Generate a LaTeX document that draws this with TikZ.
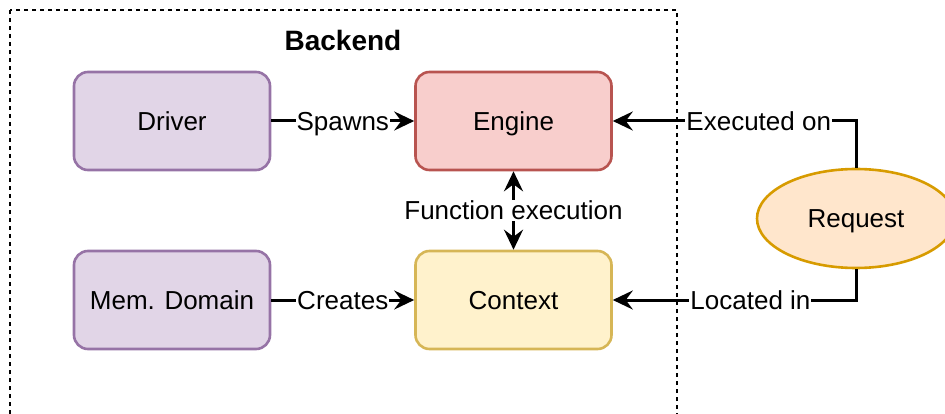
\documentclass[tikz,border=0pt]{standalone}
\usepackage{fontspec}
\setmainfont{Liberation Sans}
\usetikzlibrary{shapes.geometric,arrows.meta}
\definecolor{purpleF}{HTML}{E1D5E7}
\definecolor{purpleD}{HTML}{9673A6}
\definecolor{redF}{HTML}{F8CECC}
\definecolor{redD}{HTML}{B85450}
\definecolor{yelF}{HTML}{FFF2CC}
\definecolor{yelD}{HTML}{D6B656}
\definecolor{orF}{HTML}{FFE6CC}
\definecolor{orD}{HTML}{D79B00}
\begin{document}
\begin{tikzpicture}[x=1pt,y=-1pt,
  txt/.style={font=\fontsize{26}{30}\selectfont},
  box/.style={txt, draw, rounded corners=14pt, line width=2.6pt, minimum width=196pt, minimum height=98pt, inner sep=0pt, text depth=0pt},
  tip/.tip={Stealth[length=20pt,width=19pt,inset=7pt]},
  conn/.style={line width=3pt, -tip},
  lbl/.style={txt, fill=white, inner xsep=1pt, inner ysep=1pt, text depth=0pt}]
\useasboundingbox (0,0) rectangle (945,414);
\clip (0,0) rectangle (945,414);
\draw[dash pattern=on 4pt off 4pt, line width=1.4pt] (10,10) rectangle (677,440);
\node[font=\bfseries\fontsize{28}{32}\selectfont] (title) at (343,40) {Backend};
\node[box, fill=purpleF, draw=purpleD] (drv) at (172,121) {Driver};
\node[box, fill=redF, draw=redD] (eng) at (513.5,121) {Engine};
\node[box, fill=purpleF, draw=purpleD] (mem) at (172,300) {Mem. Domain};
\node[box, fill=yelF, draw=yelD] (ctx) at (513.5,300) {Context};
\node[txt, ellipse, draw=orD, fill=orF, line width=2.6pt, minimum width=198pt, minimum height=99pt, inner sep=0pt, text depth=0pt] (req) at (856,218.5) {Request};
\draw[conn] (drv) -- node[lbl]{Spawns} (eng);
\draw[conn] (mem) -- node[lbl]{Creates} (ctx);
\draw[line width=3pt, tip-tip] (eng) -- node[lbl]{Function execution} (ctx);
\draw[conn] (req.north) |- node[lbl,pos=0.7]{Executed on} (eng.east);
\draw[conn] (req.south) |- node[lbl,pos=0.717]{Located in} (ctx.east);
\end{tikzpicture}
\end{document}
